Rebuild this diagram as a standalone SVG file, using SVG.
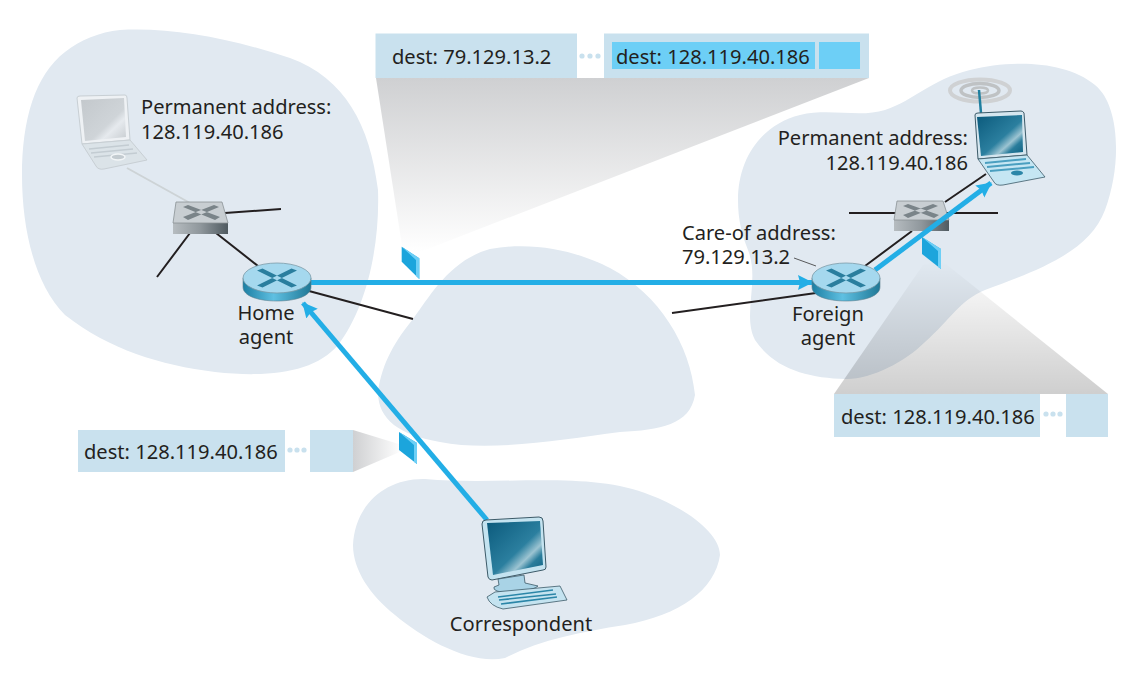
<svg xmlns="http://www.w3.org/2000/svg" width="1138" height="682" viewBox="0 0 1138 682">
<style>
text{font-family:"Noto Sans","Open Sans","DejaVu Sans",sans-serif;font-size:20.1px;fill:#231f20}
.blob{fill:#e1e9f1}
.pk{fill:#c9e1ee}
.pk2{fill:#6dcff6}
.dot{fill:#c9e1ee}
.wire{fill:none;stroke:#231f20;stroke-width:2}
.flow{fill:none;stroke:#23aee6;stroke-width:5}
.pf{fill:#1ca5dc}
.pe{fill:#6dcff6}
.sx{fill:#7a8489}
</style>
<defs>
<linearGradient id="gd" x1="0" y1="0" x2="0" y2="1"><stop offset="0" stop-color="#cfd0d2"/><stop offset="1" stop-color="#fff"/></linearGradient>
<linearGradient id="gu" x1="0" y1="1" x2="0" y2="0"><stop offset="0" stop-color="#000" stop-opacity=".19"/><stop offset="1" stop-color="#000" stop-opacity="0"/></linearGradient>
<linearGradient id="gl" x1="0" y1="0" x2="1" y2="0"><stop offset="0" stop-color="#cfd0d2"/><stop offset="1" stop-color="#fff"/></linearGradient>
<linearGradient id="rside" x1="0" y1="0" x2="1" y2="0"><stop offset="0" stop-color="#1d7fa3"/><stop offset=".45" stop-color="#5fc0e2"/><stop offset="1" stop-color="#1f7896"/></linearGradient>
<linearGradient id="sside" x1="0" y1="0" x2="1" y2="0"><stop offset="0" stop-color="#b6bcc0"/><stop offset=".5" stop-color="#8f979c"/><stop offset="1" stop-color="#4f5a60"/></linearGradient>
<linearGradient id="scr" x1="0" y1="0" x2="1" y2="1"><stop offset="0" stop-color="#0b5a7c"/><stop offset=".55" stop-color="#2b7f9f"/><stop offset=".7" stop-color="#9cc4d2"/><stop offset=".8" stop-color="#2a7d9c"/><stop offset="1" stop-color="#0c5f80"/></linearGradient>
<linearGradient id="scrg" x1="0" y1="0" x2="1" y2="1"><stop offset="0" stop-color="#c3c8cc"/><stop offset=".6" stop-color="#cfd4d8"/><stop offset=".72" stop-color="#e6eaee"/><stop offset="1" stop-color="#c6cbcf"/></linearGradient>
<marker id="ah" markerUnits="userSpaceOnUse" markerWidth="16" markerHeight="16" refX="14" refY="8" orient="auto"><path d="M0,0.5L15,8L0,15.5L2,8Z" fill="#23aee6"/></marker>
<g id="router">
<path d="M-34,-4V5C-34,14 -19,19 0,19S34,14 34,5V-4Z" fill="url(#rside)" stroke="#5d7f8e" stroke-width=".6"/>
<ellipse cx="0" cy="-4" rx="34" ry="15" fill="#a5d8ee" stroke="#7b9aa8" stroke-width=".8"/>
<path d="M-20,-11.5L-14.5,-13.5L20,3.5L14.5,5.5ZM20,-11.5L14.5,-13.5L-20,3.5L-14.5,5.5Z" fill="#2a7e9e"/>
</g>
</defs>

<g id="clouds">
<path class="blob" d="M120,30C170,27 230,38 290,58C345,78 370,125 378,190C380,250 365,310 338,345C315,372 270,378 215,372C160,365 110,350 65,315C35,285 22,230 22,175C22,120 35,75 65,52C80,40 100,32 120,30Z"/>
<path class="blob" d="M378,392C382,362 396,340 413,319C430,296 450,260 490,249C540,240 585,255 610,268C660,295 690,345 695,395C690,425 660,430 620,432C560,440 490,452 440,442C400,435 378,420 378,392Z"/>
<path class="blob" d="M353,545C355,505 385,478 425,479C500,486 590,470 650,495C690,510 720,535 720,555C715,590 680,615 625,625C580,632 540,640 505,658C470,665 425,640 395,615C370,595 353,570 353,545Z"/>
<path class="blob" d="M738,200C738,160 760,125 800,115C830,108 860,118 885,110C915,100 930,80 970,70C1010,60 1065,60 1095,85C1120,105 1122,165 1105,210C1090,250 1045,268 985,290C960,300 950,320 925,342C905,362 870,380 845,379C810,378 775,370 755,340C742,315 760,280 748,250C742,235 738,220 738,200Z"/>
</g>

<g id="callouts-shade">
<path d="M376,78H869L420,252L403,252Z" fill="url(#gd)"/>
<path d="M353,430V472L402,451V445Z" fill="url(#gl)"/>
<path d="M834,394H1108L941,260L923,265Z" fill="url(#gu)"/>
</g>

<g id="connectors">
<path d="M127,168L190,203" fill="none" stroke="#cdd3d6" stroke-width="2"/>
<path class="wire" d="M225,213L281,209M190,233L157,277M216,233L258,266M309,291L413,319M672,313L816,293"/>
<path class="wire" d="M849,213H897M946,213H998M865,266L912,231M945,202L986,174"/>
<path d="M794,258L816,266" fill="none" stroke="#58595b" stroke-width="1"/>
</g>

<g id="foreign-switch">
<path d="M894,220H949V231H894Z" fill="url(#sside)"/>
<path d="M897,201H943L949,220H894Z" fill="#c8ced2" stroke="#8a9296" stroke-width=".8"/>
<path class="sx" d="M903,206L908,204L939,215L934,218ZM938,206L933,204L903,215L908,218Z"/>
</g>

<g id="flows">
<path class="flow" d="M311,282.5H812" marker-end="url(#ah)"/>
<path class="flow" d="M487,520L303,303" marker-end="url(#ah)"/>
<path class="flow" d="M875,270L991,183" marker-end="url(#ah)"/>
</g>

<g id="home-switch">
<path d="M173,223H228V234H173Z" fill="url(#sside)"/>
<path d="M176,202H222L228,223H173Z" fill="#c8ced2" stroke="#8a9296" stroke-width=".8"/>
<path class="sx" d="M183,207L188,205L220,217L215,220ZM219,207L214,205L183,217L188,220Z"/>
</g>
<g id="home-agent"><use href="#router" x="277" y="282"/><text x="266" y="320" text-anchor="middle">Home</text><text x="266" y="344" text-anchor="middle">agent</text></g>
<g id="foreign-agent"><use href="#router" x="846" y="282"/><text x="828" y="321" text-anchor="middle">Foreign</text><text x="828" y="345" text-anchor="middle">agent</text></g>

<g id="home-laptop">
<path d="M77,98Q77,96 80,96L125,95Q127,95 127,98L130,140L82,144Z" fill="#eef1f4" stroke="#c8cfd4"/>
<path d="M81,100L124,98L126,137L85,141Z" fill="url(#scrg)"/>
<path d="M82,144L130,140L147,160L104,169Q98,170 96,166Z" fill="#dbe3e8" stroke="#c8cfd4"/>
<path d="M89,149L129,145M91,153L133,149M94,157L137,153" stroke="#c3ccd2" stroke-width="1.5" fill="none"/>
<ellipse cx="118" cy="157" rx="7" ry="3" fill="#c3cbd0" stroke="#f2f5f7" stroke-width="1.5"/>
</g>
<g id="mobile-laptop">
<ellipse cx="980" cy="90.5" rx="30" ry="11" fill="none" stroke="#cfd1d3" stroke-width="4"/>
<ellipse cx="980" cy="90.5" rx="19" ry="7" fill="none" stroke="#bfc2c4" stroke-width="3.5"/>
<ellipse cx="980" cy="90.5" rx="8" ry="3" fill="none" stroke="#bfc2c4" stroke-width="2.5"/>
<path d="M979,90L981,113" stroke="#1f7f9f" stroke-width="2.5" fill="none"/>
<path d="M975,115Q975,113 978,113L1021,111Q1023,111 1024,113L1027,155L978,159Z" fill="#d5e6ef" stroke="#3c5a68"/>
<path d="M977,117L1022,115L1023,152L981,156Z" fill="url(#scr)"/>
<path d="M978,159L1027,155L1045,177L1003,185Q996,186 994,182Z" fill="#c5e6f3" stroke="#3c5a68" stroke-width=".8"/>
<path d="M985,163L1026,159M987,167L1030,163M990,171L1034,167" stroke="#4a9fc0" stroke-width="2" fill="none"/>
<ellipse cx="1017" cy="173" rx="6" ry="2.5" fill="#2b86a8"/>
</g>
<g id="correspondent">
<path d="M482,524Q482,520 486,520L539,517Q543,517 543,521L546,567Q546,570 543,570L492,580Q489,580 488,577Z" fill="#c4e3f0" stroke="#3c5a68"/>
<path d="M487,523L540,521L543,565L493,575Z" fill="url(#scr)"/>
<path d="M498,579L524,575L525,583L538,586Q535,590 510,593Q492,592 494,587L499,585Z" fill="#a9d3e6" stroke="#3c5a68" stroke-width=".8"/>
<path d="M487,597L495,592L560,586L567,600L503,609Q490,606 487,597Z" fill="#c4e3f0" stroke="#3c5a68" stroke-width=".8"/>
<path d="M498,597L553,590M499,600L556,594M501,604L557,597" stroke="#2b86a8" stroke-width="1.6" fill="none"/>
<text x="521" y="631" text-anchor="middle">Correspondent</text>
</g>

<g id="packets">
<path class="pf" d="M401.7,246.7L419.3,258.3V279L401.7,261.7Z"/><path class="pe" d="M401.7,246.7L419.3,258.3V279L416,276V260Z"/>
<path class="pf" d="M399,432L417,443V464L399,450Z"/><path class="pe" d="M399,432L417,443V464L414,462V445Z"/>
<path class="pf" d="M922,237L941,249V269L922,254Z"/><path class="pe" d="M922,237L941,249V269L938,267V251Z"/>
</g>

<g id="top-callout">
<rect class="pk" x="375.5" y="33.5" width="201.5" height="44.5"/>
<rect class="pk" x="604" y="33.5" width="265" height="44.5"/>
<rect class="pk2" x="612" y="42" width="203" height="27"/>
<rect class="pk2" x="819" y="42" width="41" height="27"/>
<circle class="dot" cx="582" cy="56" r="2.6"/><circle class="dot" cx="590" cy="56" r="2.6"/><circle class="dot" cx="598" cy="56" r="2.6"/>
<text x="392" y="64">dest: 79.129.13.2</text>
<text x="616" y="64">dest: 128.119.40.186</text>
</g>
<g id="left-callout">
<rect class="pk" x="78" y="430" width="207" height="42"/>
<rect class="pk" x="310" y="430" width="43" height="42"/>
<circle class="dot" cx="290" cy="450" r="2.6"/><circle class="dot" cx="297" cy="450" r="2.6"/><circle class="dot" cx="304" cy="450" r="2.6"/>
<text x="84" y="459">dest: 128.119.40.186</text>
</g>
<g id="right-callout">
<rect class="pk" x="834" y="394" width="206" height="43"/>
<rect class="pk" x="1066" y="394" width="42" height="43"/>
<circle class="dot" cx="1046" cy="414" r="2.6"/><circle class="dot" cx="1053" cy="414" r="2.6"/><circle class="dot" cx="1060" cy="414" r="2.6"/>
<text x="841" y="424">dest: 128.119.40.186</text>
</g>

<g id="labels">
<text x="141" y="114">Permanent address:</text>
<text x="141" y="139">128.119.40.186</text>
<text x="968" y="145" text-anchor="end">Permanent address:</text>
<text x="968" y="170" text-anchor="end">128.119.40.186</text>
<text x="682" y="240">Care-of address:</text>
<text x="682" y="264">79.129.13.2</text>
</g>
</svg>
